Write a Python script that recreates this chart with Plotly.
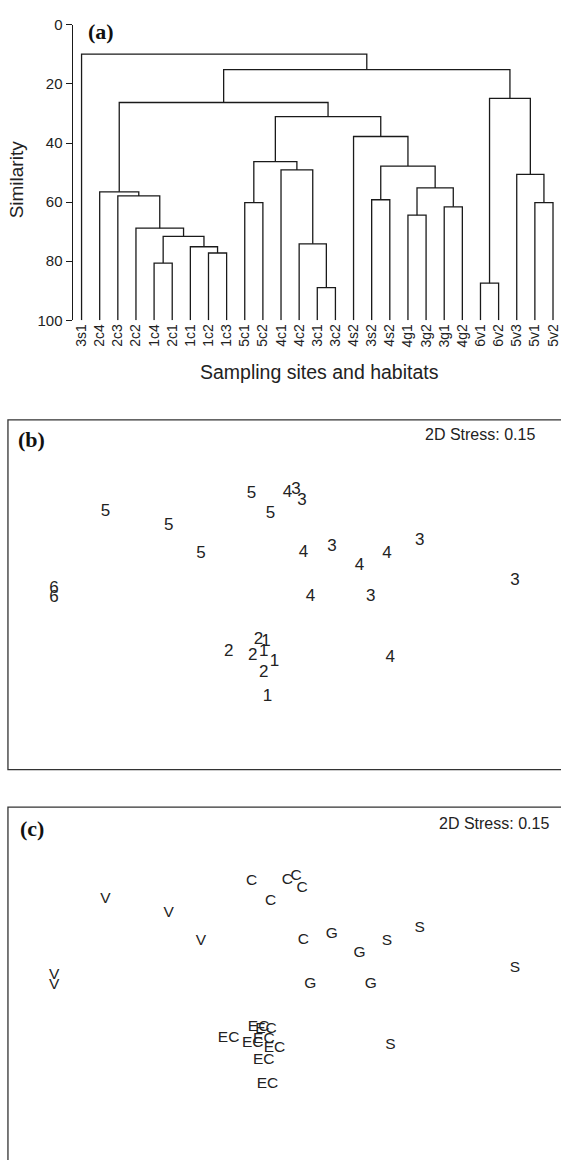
import plotly.graph_objects as go

W, H = 561, 1160

# ---------------- Data ----------------
leaf_labels = ["3s1", "2c4", "2c3", "2c2", "1c4", "2c1", "1c1", "1c2", "1c3",
               "5c1", "5c2", "4c1", "4c2", "3c1", "3c2", "4s2", "3s2", "4s2",
               "4g1", "3g2", "3g1", "4g2", "6v1", "6v2", "5v3", "5v1", "5v2"]

# merges: (child_a, child_b, similarity); ids >= 27 refer to earlier merges
merge_a = [4, 7, 6, 27, 3, 2, 1, 9, 13, 12, 11, 34, 16, 18, 20, 40, 39, 15, 38, 33, 22, 25, 24, 47, 46, 0]
merge_b = [5, 8, 28, 29, 30, 31, 32, 10, 14, 35, 36, 37, 17, 19, 21, 41, 42, 43, 44, 45, 23, 26, 48, 49, 50, 51]
merge_h = [80.6, 77.2, 75.1, 71.6, 68.8, 57.9, 56.5, 60.2, 88.9, 74.1, 49.1, 46.3, 59.2,
           64.4, 61.6, 55.2, 47.8, 37.8, 31.1, 26.3, 87.4, 60.2, 50.6, 24.9, 15.2, 9.9]

sim_ticks = [0, 20, 40, 60, 80, 100]

# MDS ordination coordinates (one per sample)
mds_x = [-1.227, -0.803, -0.587, -0.247, -0.120, -0.007, 0.051, 0.091, 0.100, 0.291,
         0.476, 0.660, 0.880, 1.518, -1.571, -1.571, 0.147, 0.552, 0.683, -0.401,
         -0.200, -0.151, -0.239, -0.165, -0.094, -0.166, -0.140]
mds_y = [0.567, 0.469, 0.283, 0.688, 0.553, 0.693, 0.717, 0.638, 0.290, 0.325,
         0.197, 0.282, 0.371, 0.097, 0.047, -0.018, -0.012, -0.012, -0.422, -0.379,
         -0.299, -0.315, -0.411, -0.380, -0.447, -0.527, -0.687]
site_group = ["5", "5", "5", "5", "5", "4", "3", "3", "4", "3",
              "4", "4", "3", "3", "6", "6", "4", "3", "4", "2",
              "2", "1", "2", "1", "1", "2", "1"]
habitat = ["V", "V", "V", "C", "C", "C", "C", "C", "C", "G",
           "G", "S", "S", "S", "V", "V", "G", "G", "S", "EC",
           "EC", "EC", "EC", "EC", "EC", "EC", "EC"]
stress_text = "2D Stress: 0.15"

# ---------------- Helpers ----------------
def fx(x):
    return x / W

def fy(y):
    return 1 - y / H

SANS = "Liberation Sans, Arial, Helvetica, sans-serif"
SERIF = "Liberation Serif, Times New Roman, serif"
INK = "#1a1a1a"

# ---------------- Dendrogram geometry ----------------
n = len(leaf_labels)
pos = {i: (float(i), 100.0) for i in range(n)}
dx, dy = [], []
for k, (a, b, h) in enumerate(zip(merge_a, merge_b, merge_h)):
    xa, ha = pos[a]
    xb, hb = pos[b]
    dx += [xa, xa, xb, xb, None]
    dy += [ha, h, h, hb, None]
    pos[n + k] = ((xa + xb) / 2, h)

fig = go.Figure()
fig.add_trace(go.Scatter(x=dx, y=dy, mode="lines", line=dict(color=INK, width=1.3),
                         xaxis="x", yaxis="y", hoverinfo="skip", showlegend=False,
                         cliponaxis=False))

fig.add_trace(go.Scatter(x=mds_x, y=mds_y, mode="text", text=site_group,
                         textposition="middle center",
                         textfont=dict(family=SANS, size=17, color="#222"),
                         xaxis="x2", yaxis="y2", showlegend=False))
fig.add_trace(go.Scatter(x=mds_x, y=mds_y, mode="text", text=habitat,
                         textposition="middle center",
                         textfont=dict(family=SANS, size=15.5, color="#222"),
                         xaxis="x3", yaxis="y3", showlegend=False))

leaf_px0, leaf_step = 82.0, 18.23
xa_left = 73.0
fig.update_layout(
    width=W, height=H,
    margin=dict(l=0, r=0, t=0, b=0),
    paper_bgcolor="white", plot_bgcolor="white",
    font=dict(family=SANS, color="#222"),
    xaxis=dict(domain=[fx(xa_left), 1], anchor="y",
               range=[(xa_left - leaf_px0) / leaf_step, (W - leaf_px0) / leaf_step],
               tickmode="array", tickvals=list(range(n)), ticktext=leaf_labels,
               tickangle=-90, tickfont=dict(size=14, family=SANS, color="#222"),
               ticklabeloverflow="allow",
               showline=False, ticks="", showgrid=False, zeroline=False),
    yaxis=dict(domain=[fy(316), fy(16)], anchor="x", range=[100, 0],
               tickmode="array", tickvals=sim_ticks,
               tickfont=dict(size=15, family=SANS, color="#222"),
               showline=True, linecolor=INK, linewidth=1.2,
               ticks="outside", ticklen=6, tickcolor=INK, tickwidth=1.2,
               showgrid=False, zeroline=False),
    xaxis2=dict(domain=[fx(8), 1], anchor="y2", range=[(8 - 290) / 150, (W - 290) / 150],
                visible=False),
    yaxis2=dict(domain=[fy(772), fy(417)], anchor="x2",
                range=[(595 - 772) / 150, (595 - 417) / 150], visible=False),
    xaxis3=dict(domain=[fx(8), 1], anchor="y3", range=[(8 - 290) / 150, (W - 290) / 150],
                visible=False),
    yaxis3=dict(domain=[0, fy(810)], anchor="x3",
                range=[(595 - 767) / 150, (595 - 417) / 150], visible=False),
)

fig.add_shape(type="rect", xref="paper", yref="paper",
              x0=fx(8), x1=1.02, y0=fy(772), y1=fy(417),
              line=dict(color="#333", width=1.3), fillcolor="rgba(0,0,0,0)")
fig.add_shape(type="rect", xref="paper", yref="paper",
              x0=fx(8), x1=1.02, y0=-0.02, y1=fy(810),
              line=dict(color="#333", width=1.3), fillcolor="rgba(0,0,0,0)")

ann = [
    dict(text="<b>(a)</b>", x=fx(102), y=fy(22.5), xanchor="center", yanchor="middle",
         font=dict(family=SERIF, size=22, color="#111")),
    dict(text="<b>(b)</b>", x=fx(32), y=fy(437), xanchor="center", yanchor="middle",
         font=dict(family=SERIF, size=22, color="#111")),
    dict(text="<b>(c)</b>", x=fx(32), y=fy(831.7), xanchor="center", yanchor="middle",
         font=dict(family=SERIF, size=22, color="#111")),
    dict(text=stress_text, x=fx(540), y=fy(432), xanchor="right", yanchor="middle",
         font=dict(family=SANS, size=16, color="#222")),
    dict(text=stress_text, x=fx(554), y=fy(826.7), xanchor="right", yanchor="middle",
         font=dict(family=SANS, size=16, color="#222")),
    dict(text="Similarity", x=fx(16.7), y=fy(173.3), xanchor="center", yanchor="middle",
         textangle=-90, font=dict(family=SANS, size=19, color="#222")),
    dict(text="Sampling sites and habitats", x=fx(321), y=fy(368), xanchor="center",
         yanchor="middle", font=dict(family=SANS, size=19.5, color="#222")),
]
for a in ann:
    a.update(xref="paper", yref="paper", showarrow=False)
    fig.add_annotation(**a)

fig.write_html("out.html",
               config={"displayModeBar": False},
               post_script="document.body.style.margin='0px';"
                           "document.body.style.padding='0px';"
                           "document.documentElement.style.overflow='hidden';"
                           "document.body.style.overflow='hidden';")
